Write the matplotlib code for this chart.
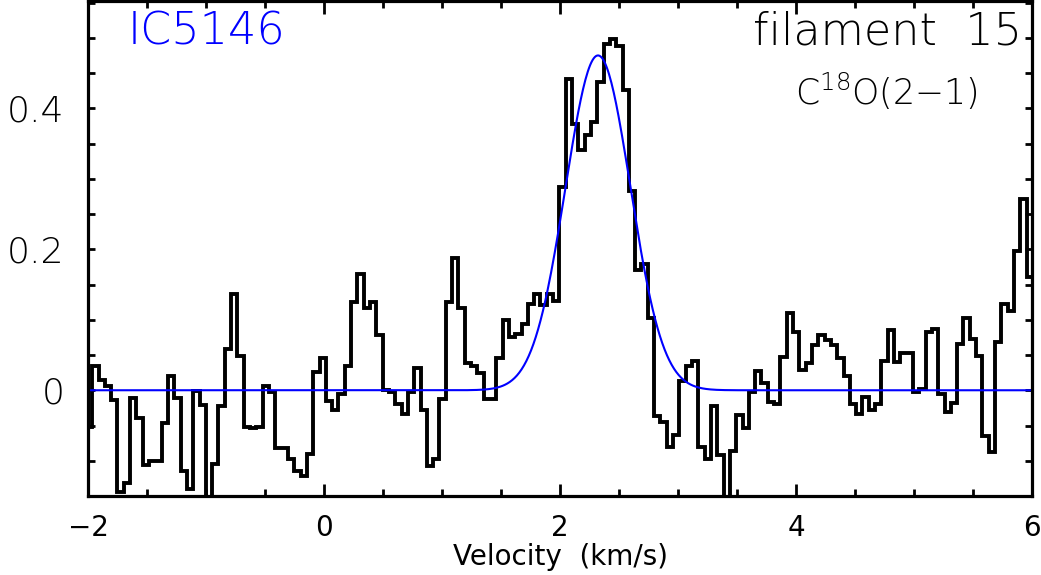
import numpy as np
import matplotlib
matplotlib.use("Agg")
import matplotlib.pyplot as plt
from matplotlib.ticker import MultipleLocator, FuncFormatter

# channel grid (km/s)
first_edge = -2.0175
chan_width = 0.0535

# C18O(2-1) spectrum, one value per channel (K)
tmb = [
    -0.052, 0.034, 0.015, 0.006, -0.014, -0.144, -0.132, -0.011, -0.040, -0.106,
    -0.100, -0.101, -0.047, 0.020, -0.011, -0.114, -0.140, -0.001, -0.021, -0.160,
    -0.105, -0.022, 0.059, 0.137, 0.048, -0.052, -0.054, -0.052, 0.006, -0.002,
    -0.082, -0.082, -0.098, -0.114, -0.121, -0.091, 0.026, 0.046, -0.015, -0.028,
    -0.006, 0.034, 0.125, 0.165, 0.116, 0.125, 0.079, 0.001, -0.002, -0.020,
    -0.034, -0.002, 0.031, -0.028, -0.107, -0.098, -0.013, 0.125, 0.187, 0.117,
    0.039, 0.034, 0.025, -0.012, -0.012, 0.046, 0.100, 0.075, 0.080, 0.094,
    0.123, 0.136, 0.121, 0.136, 0.126, 0.288, 0.441, 0.378, 0.341, 0.362,
    0.381, 0.438, 0.491, 0.499, 0.489, 0.426, 0.283, 0.170, 0.179, 0.103,
    -0.037, -0.045, -0.080, -0.064, 0.013, 0.035, 0.042, -0.080, -0.097, -0.023,
    -0.092, -0.170, -0.086, -0.035, -0.053, -0.002, 0.028, 0.010, -0.017, -0.020,
    0.047, 0.110, 0.082, 0.029, 0.038, 0.064, 0.079, 0.071, 0.064, 0.046,
    0.020, -0.020, -0.033, -0.010, -0.028, -0.020, 0.042, 0.086, 0.040, 0.053,
    0.053, -0.002, 0.002, 0.083, 0.087, -0.006, -0.031, -0.018, 0.066, 0.103,
    0.073, 0.048, -0.065, -0.087, 0.068, 0.122, 0.112, 0.198, 0.272, 0.160,
]

# gaussian fit parameters
fit_amp = 0.475
fit_center = 2.322
fit_sigma = 0.275

edges = first_edge + chan_width * np.arange(len(tmb) + 1)

plt.rcParams["mathtext.default"] = "regular"

fig = plt.figure(figsize=(10.41, 5.75), dpi=100)
ax = fig.add_axes([0.0845, 0.1374, 0.9069, 0.8606])

ax.stairs(tmb, edges, baseline=None, color="black", lw=2.8)

vfit = np.linspace(-2, 6, 800)
ax.plot(vfit, fit_amp * np.exp(-(vfit - fit_center) ** 2 / (2 * fit_sigma ** 2)),
        color="#0000ff", lw=1.5)

ax.set_xlim(-2, 6)
ax.set_ylim(-0.15, 0.552)

ax.xaxis.set_major_locator(MultipleLocator(2))
ax.xaxis.set_minor_locator(MultipleLocator(0.5))
ax.yaxis.set_major_locator(MultipleLocator(0.2))
ax.yaxis.set_minor_locator(MultipleLocator(0.05))
ax.yaxis.set_major_formatter(FuncFormatter(lambda v, p: "0" if abs(v) < 1e-9 else f"{v:.1f}"))

ax.tick_params(which="both", direction="in", top=True, right=True, width=2.0)
ax.tick_params(which="major", length=9)
ax.tick_params(which="minor", length=5)
ax.tick_params(axis="x", which="major", labelsize=20, pad=13)
ax.tick_params(axis="y", which="major", labelsize=26, pad=17, length=5)
for lab in ax.get_yticklabels():
    lab.set_fontweight("light")
for s in ax.spines.values():
    s.set_linewidth(2.3)

ax.set_xlabel("Velocity  (km/s)", fontsize=20, labelpad=1)

ax.text(0.042, 0.913, "IC5146", transform=ax.transAxes, color="#0000ff",
        fontsize=32, fontweight="light", ha="left", va="baseline")
ax.text(0.989, 0.913, "filament  15", transform=ax.transAxes, color="black",
        fontsize=32, fontweight="light", ha="right", va="baseline")
ax.text(0.943, 0.79, "C$^{18}$O(2\u22121)", transform=ax.transAxes, color="black",
        fontsize=25, fontweight="light", ha="right", va="baseline")

fig.savefig("out.png", dpi=100)
